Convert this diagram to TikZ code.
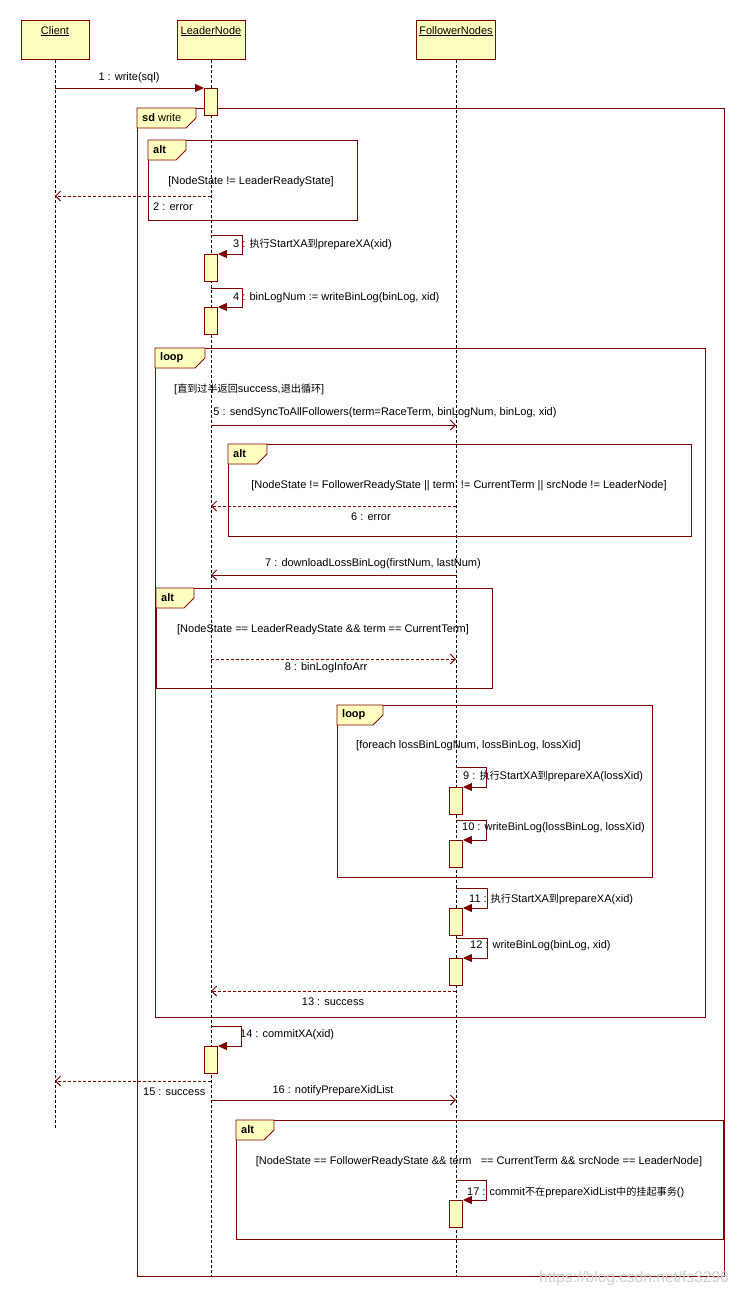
\documentclass[tikz,border=0pt]{standalone}
\usepackage{fontspec}
\setmainfont{Liberation Sans}
\newfontfamily\cjk{Noto Sans CJK SC}[Scale=0.92]
\usetikzlibrary{arrows.meta}
\definecolor{frameRed}{RGB}{128,0,0}
\definecolor{noteYellow}{RGB}{255,255,192}
\newcommand\umlfrag[7]{% name, x0, y0, x1, y1, tab right, label
  \draw[fragline] (#2,#3) rectangle (#4,#5);
  \draw[fragtab] (#2,#3) -- (#6,#3) -- (#6,#3+10) -- (#6-10,#3+20) -- (#2,#3+20) -- cycle;
  \node[anchor=west] (#1) at (#2+5,#3+10) {#7};
}
\begin{document}
\begin{tikzpicture}[x=1pt,y=-1pt,
  every node/.style={font=\fontsize{11}{13}\selectfont, inner sep=0pt, text=black},
  lifeline/.style={draw=black, line width=0.8pt, dash pattern=on 3pt off 2pt},
  fragline/.style={draw=frameRed, line width=0.9pt},
  fragtab/.style={draw=frameRed, fill=noteYellow, line width=0.9pt},
  headbox/.style={draw=frameRed, fill=noteYellow, line width=0.9pt, minimum width=68pt, minimum height=39pt, anchor=north},
  actbar/.style={draw=frameRed, fill=noteYellow, line width=0.9pt, minimum width=13pt, minimum height=27pt, anchor=north},
  msgline/.style={draw=frameRed, line width=0.9pt},
  syncmsg/.style={msgline, -{Triangle[length=9pt,width=8pt]}},
  asyncmsg/.style={msgline, -{Straight Barb[length=5pt,width=10pt]}},
  retmsg/.style={asyncmsg, dash pattern=on 3pt off 2pt},
  lbl/.style={anchor=west},
  clbl/.style={anchor=center}
]
\useasboundingbox (0,0) rectangle (744,1296);

% ---------- participants ----------
\node[headbox, label={[anchor=north, yshift=-6pt]north:\underline{Client}}] (cl) at (55,20) {};
\node[headbox, label={[anchor=north, yshift=-6pt]north:\underline{LeaderNode}}] (ld) at (211,20) {};
\node[headbox, minimum width=79pt, label={[anchor=north, yshift=-6pt]north:\underline{FollowerNodes}}] (fo) at (456,20) {};

\coordinate (clend) at (55,1128);
\coordinate (ldend) at (211,1276);
\coordinate (foend) at (456,1276);
\draw[lifeline] (cl) -- (clend);
\draw[lifeline] (ld) -- (ldend);
\draw[lifeline] (fo) -- (foend);

% ---------- fragments ----------
\umlfrag{sdlbl}{137}{108}{724}{1276}{196}{\textbf{sd} write}
\umlfrag{alta}{148}{140}{357}{220}{186}{\textbf{alt}}
\umlfrag{loopa}{155}{348}{705}{1017}{205}{\textbf{loop}}
\umlfrag{altb}{228}{444}{691}{536}{267}{\textbf{alt}}
\umlfrag{altc}{156}{588}{492}{688}{194}{\textbf{alt}}
\umlfrag{loopb}{337}{705}{652}{877}{383}{\textbf{loop}}
\umlfrag{altd}{236}{1120}{723}{1239}{274}{\textbf{alt}}

% ---------- activation bars ----------
\node[actbar] (a1) at (211,88) {};
\node[actbar] (a3) at (211,254) {};
\node[actbar] (a4) at (211,307) {};
\node[actbar] (a9) at (456,787) {};
\node[actbar] (a10) at (456,840) {};
\node[actbar] (a11) at (456,908) {};
\node[actbar] (a12) at (456,958) {};
\node[actbar] (a14) at (211,1046) {};
\node[actbar] (a17) at (456,1200) {};

% ---------- message endpoints ----------
\coordinate (m1s) at (55,88);
\coordinate (m2s) at (211,196);  \coordinate (m2e) at (55,196);
\coordinate (m3s) at (211,235);
\coordinate (m4s) at (211,288);
\coordinate (m5s) at (211,425);  \coordinate (m5e) at (456,425);
\coordinate (m6s) at (456,506);  \coordinate (m6e) at (211,506);
\coordinate (m7s) at (456,575);  \coordinate (m7e) at (211,575);
\coordinate (m8s) at (211,659);  \coordinate (m8e) at (456,659);
\coordinate (m9s) at (456,767);
\coordinate (m10s) at (456,820);
\coordinate (m11s) at (456,888);
\coordinate (m12s) at (456,938);
\coordinate (m13s) at (456,991); \coordinate (m13e) at (211,991);
\coordinate (m14s) at (211,1026);
\coordinate (m15s) at (211,1081); \coordinate (m15e) at (55,1081);
\coordinate (m16s) at (211,1100); \coordinate (m16e) at (456,1100);
\coordinate (m17s) at (456,1180);

% ---------- messages ----------
\draw[syncmsg] (m1s) -- (a1.north west);
\draw[retmsg] (m2s) -- (m2e);
\draw[syncmsg] (m3s) -- ++(31,0) |- (a3.north east);
\draw[syncmsg] (m4s) -- ++(31,0) |- (a4.north east);
\draw[asyncmsg] (m5s) -- (m5e);
\draw[retmsg] (m6s) -- (m6e);
\draw[asyncmsg] (m7s) -- (m7e);
\draw[retmsg] (m8s) -- (m8e);
\draw[syncmsg] (m9s) -- ++(30,0) |- (a9.north east);
\draw[syncmsg] (m10s) -- ++(30,0) |- (a10.north east);
\draw[syncmsg] (m11s) -- ++(31,0) |- (a11.north east);
\draw[syncmsg] (m12s) -- ++(31,0) |- (a12.north east);
\draw[retmsg] (m13s) -- (m13e);
\draw[syncmsg] (m14s) -- ++(30,0) |- (a14.north east);
\draw[retmsg] (m15s) -- (m15e);
\draw[asyncmsg] (m16s) -- (m16e);
\draw[syncmsg] (m17s) -- ++(30,0) |- (a17.north east);

% ---------- labels ----------
\node[clbl] (t1) at (129,78) {1 : write(sql)};
\node[clbl] (g1) at (251,182) {[NodeState != LeaderReadyState]};
\node[lbl] (t2) at (153,207) {2 : error};
\node[lbl] (t3) at (233,244) {3 : {\cjk 执行}StartXA{\cjk 到}prepareXA(xid)};
\node[lbl] (t4) at (233,298) {4 : binLogNum := writeBinLog(binLog, xid)};
\node[lbl] (g2) at (174,389) {[{\cjk 直到过半返回}success,{\cjk 退出循环}]};
\node[clbl] (t5) at (385,413) {5 : sendSyncToAllFollowers(term=RaceTerm, binLogNum, binLog, xid)};
\node[clbl] (g3) at (459,486) {[NodeState != FollowerReadyState || term\ \ != CurrentTerm || srcNode != LeaderNode]};
\node[clbl] (t6) at (371,517) {6 : error};
\node[clbl] (t7) at (373,564) {7 : downloadLossBinLog(firstNum, lastNum)};
\node[clbl] (g4) at (323,630) {[NodeState == LeaderReadyState \&\& term == CurrentTerm]};
\node[clbl] (t8) at (326,668) {8 : binLogInfoArr};
\node[lbl] (g5) at (356,746) {[foreach lossBinLogNum, lossBinLog, lossXid]};
\node[lbl] (t9) at (463,776) {9 : {\cjk 执行}StartXA{\cjk 到}prepareXA(lossXid)};
\node[lbl] (t10) at (462,828) {10 : writeBinLog(lossBinLog, lossXid)};
\node[lbl] (t11) at (469,899) {11 : {\cjk 执行}StartXA{\cjk 到}prepareXA(xid)};
\node[lbl] (t12) at (470,946) {12 : writeBinLog(binLog, xid)};
\node[clbl] (t13) at (333,1002) {13 : success};
\node[lbl] (t14) at (240,1035) {14 : commitXA(xid)};
\node[lbl] (t15) at (143,1092) {15 : success};
\node[clbl] (t16) at (333,1091) {16 : notifyPrepareXidList};
\node[clbl] (g6) at (479,1162) {[NodeState == FollowerReadyState \&\& term\ \ \ == CurrentTerm \&\& srcNode == LeaderNode]};
\node[lbl] (t17) at (467,1192) {17 : commit{\cjk 不在}prepareXidList{\cjk 中的挂起事务}()};

% watermark
\node[anchor=west, font=\fontsize{15.5}{18}\selectfont, text=black!20] (wm) at (539,1278) {https://blog.csdn.net/fs3296};
\end{tikzpicture}
\end{document}
